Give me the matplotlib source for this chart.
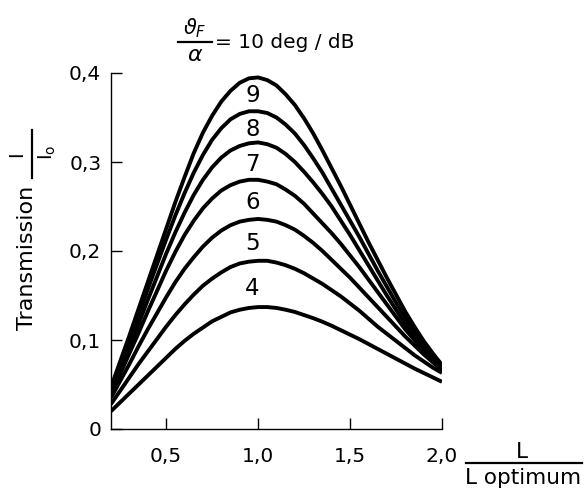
import matplotlib
matplotlib.use("Agg")
import matplotlib.pyplot as plt
from matplotlib.lines import Line2D

# L / L optimum
x_vals = [0.20, 0.25, 0.30, 0.35, 0.40, 0.45, 0.50, 0.55, 0.60, 0.65,
          0.70, 0.75, 0.80, 0.85, 0.90, 0.95, 1.00, 1.05, 1.10, 1.15,
          1.20, 1.25, 1.30, 1.35, 1.40, 1.45, 1.50, 1.55, 1.60, 1.65,
          1.70, 1.75, 1.80, 1.85, 1.90, 1.95, 2.00]

# transmission I/Io, bottom curve first
curve_a = [0.020, 0.030, 0.040, 0.050, 0.060, 0.070, 0.080, 0.090, 0.099, 0.107,
           0.114, 0.121, 0.126, 0.131, 0.134, 0.136, 0.137, 0.137, 0.136, 0.134,
           0.1315, 0.128, 0.1245, 0.1205, 0.116, 0.111, 0.106, 0.101, 0.0955, 0.090,
           0.0845, 0.079, 0.0735, 0.068, 0.063, 0.058, 0.053]
curve_b = [0.028, 0.043, 0.058, 0.073, 0.087, 0.101, 0.115, 0.128, 0.140, 0.151,
           0.161, 0.169, 0.176, 0.182, 0.186, 0.188, 0.189, 0.189, 0.187, 0.184,
           0.180, 0.175, 0.169, 0.163, 0.156, 0.149, 0.141, 0.133, 0.124, 0.115,
           0.107, 0.099, 0.091, 0.083, 0.076, 0.069, 0.063]
curve_c = [0.035, 0.054, 0.073, 0.093, 0.112, 0.130, 0.148, 0.165, 0.180, 0.193,
           0.205, 0.215, 0.223, 0.229, 0.233, 0.235, 0.236, 0.235, 0.233, 0.229,
           0.224, 0.217, 0.209, 0.200, 0.190, 0.180, 0.170, 0.159, 0.148, 0.137,
           0.126, 0.115, 0.104, 0.094, 0.084, 0.075, 0.066]
curve_d = [0.040, 0.062, 0.085, 0.108, 0.132, 0.155, 0.178, 0.199, 0.218, 0.234,
           0.248, 0.259, 0.268, 0.274, 0.278, 0.280, 0.280, 0.278, 0.275, 0.269,
           0.262, 0.253, 0.242, 0.231, 0.220, 0.208, 0.195, 0.182, 0.168, 0.154,
           0.140, 0.126, 0.112, 0.100, 0.088, 0.078, 0.068]
curve_e = [0.042, 0.067, 0.092, 0.118, 0.145, 0.171, 0.197, 0.221, 0.243, 0.263,
           0.280, 0.294, 0.305, 0.313, 0.318, 0.321, 0.322, 0.320, 0.316, 0.309,
           0.300, 0.289, 0.277, 0.264, 0.250, 0.234, 0.218, 0.201, 0.184, 0.167,
           0.150, 0.134, 0.118, 0.104, 0.091, 0.080, 0.070]
curve_f = [0.045, 0.072, 0.100, 0.128, 0.157, 0.185, 0.213, 0.240, 0.265, 0.288,
           0.308, 0.325, 0.338, 0.348, 0.354, 0.357, 0.357, 0.355, 0.350, 0.342,
           0.332, 0.319, 0.304, 0.288, 0.270, 0.252, 0.234, 0.216, 0.197, 0.178,
           0.160, 0.142, 0.125, 0.109, 0.095, 0.082, 0.071]
curve_g = [0.047, 0.076, 0.105, 0.135, 0.165, 0.195, 0.225, 0.255, 0.283, 0.310,
           0.333, 0.352, 0.368, 0.380, 0.389, 0.394, 0.395, 0.392, 0.386, 0.376,
           0.364, 0.349, 0.332, 0.313, 0.293, 0.273, 0.252, 0.231, 0.210, 0.190,
           0.170, 0.151, 0.132, 0.115, 0.099, 0.085, 0.072]

curves = [curve_a, curve_b, curve_c, curve_d, curve_e, curve_f, curve_g]

# curve numbers written between the curves
label_text = ["9", "8", "7", "6", "5", "4"]
label_x = [0.97, 0.97, 0.97, 0.97, 0.97, 0.97]
label_y = [0.375, 0.337, 0.297, 0.254, 0.208, 0.158]

x_ticks = [0.5, 1.0, 1.5, 2.0]
x_tick_labels = ["0,5", "1,0", "1,5", "2,0"]
y_ticks = [0.0, 0.1, 0.2, 0.3, 0.4]
y_tick_labels = ["0", "0,1", "0,2", "0,3", "0,4"]

plt.rcParams["font.family"] = ["DejaVu Sans"]
plt.rcParams["mathtext.fontset"] = "dejavusans"

W, H = 585, 492
fig = plt.figure(figsize=(W / 100, H / 100), dpi=100)


def fx(px):
    return px / W


def fy(py):
    return 1 - py / H


ax = fig.add_axes([fx(111), fy(429), fx(442) - fx(111), fy(73) - fy(429)])

for ys in curves:
    ax.plot(x_vals, ys, color="black", linewidth=2.8, solid_capstyle="butt",
            solid_joinstyle="round")

for t, lx, ly in zip(label_text, label_x, label_y):
    ax.text(lx, ly, t, fontsize=16.5, ha="center", va="center")

ax.set_xlim(0.2, 2.0)
ax.set_ylim(0, 0.4)
ax.set_xticks(x_ticks)
ax.set_xticklabels(x_tick_labels)
ax.set_yticks(y_ticks)
ax.set_yticklabels(y_tick_labels)
ax.tick_params(axis="both", direction="in", length=8, width=1, labelsize=14.5)
ax.tick_params(axis="x", pad=13)
ax.tick_params(axis="y", pad=7)

for s in ["top", "right"]:
    ax.spines[s].set_visible(False)
for s in ["left", "bottom"]:
    ax.spines[s].set_linewidth(1.0)

# title fraction  theta_F / alpha = 10 deg/dB
fig.text(fx(195), fy(28), r"$\vartheta_F$", fontsize=15, ha="center", va="center")
fig.add_artist(Line2D([fx(178), fx(212)], [fy(42), fy(42)], color="black", linewidth=1.6))
fig.text(fx(195), fy(55), r"$\alpha$", fontsize=16, ha="center", va="center")
fig.text(fx(215), fy(42), "= 10 deg / dB", fontsize=14.5, ha="left", va="center")

# y label with rotated fraction I / Io
fig.text(fx(27), fy(258), "Transmission", fontsize=16, rotation=90,
         ha="center", va="center")
fig.text(fx(17), fy(154), "I", fontsize=14, rotation=90, ha="center", va="center")
fig.add_artist(Line2D([fx(32), fx(32)], [fy(130), fy(178)], color="black", linewidth=1.6))
fig.text(fx(47), fy(152), r"I$_\mathregular{o}$", fontsize=14, rotation=90,
         ha="center", va="center")

# x label fraction L / L optimum
fig.text(fx(522), fy(452), "L", fontsize=15.5, ha="center", va="center")
fig.add_artist(Line2D([fx(466), fx(582)], [fy(463), fy(463)], color="black", linewidth=1.6))
fig.text(fx(523), fy(478), "L optimum", fontsize=15.5, ha="center", va="center")

fig.savefig("out.png", dpi=100)
